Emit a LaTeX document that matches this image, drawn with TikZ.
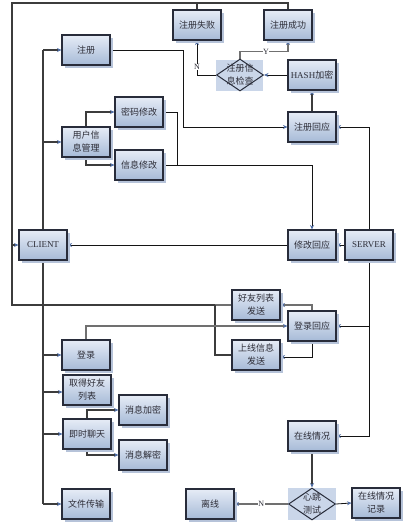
\documentclass[tikz,border=0pt]{standalone}
\usepackage{fontspec}
\setmainfont{Liberation Serif}
\newfontfamily\cjk{Noto Sans CJK SC}
\usetikzlibrary{arrows.meta,shadows,shapes.geometric,calc}
\pgfdeclarelayer{back}
\pgfdeclarelayer{bg}
\pgfsetlayers{back,bg,main}
\definecolor{boxtop}{RGB}{230,236,246}
\definecolor{boxbot}{RGB}{166,186,215}
\definecolor{shade}{RGB}{182,195,217}
\definecolor{edge}{RGB}{40,44,58}
\definecolor{tip}{RGB}{80,110,165}
\definecolor{txt}{RGB}{45,45,55}
\definecolor{gline}{RGB}{112,112,112}
\definecolor{dline}{RGB}{60,60,60}
\definecolor{dpale}{RGB}{202,214,233}
\tikzset{
  blk/.style={draw=edge, line width=1.1pt, top color=boxtop, bottom color=boxbot,
    minimum width=48pt, minimum height=30pt, inner sep=1pt, align=center,
    font=\cjk\fontsize{9}{13}\selectfont, text=txt,
    drop shadow={shadow xshift=2.5pt, shadow yshift=-2.5pt, fill=shade, opacity=1}},
  dia/.style={draw=edge, line width=1pt, diamond, minimum width=47pt, minimum height=32pt, inner sep=0pt},
  diatext/.style={align=center, font=\cjk\fontsize{9}{13}\selectfont, text=txt, inner sep=0pt},
  con/.style={draw=black!92, line width=0.8pt},
  gl/.style={draw=gline, line width=1.2pt},
  dl/.style={draw=dline, line width=1.1pt},
  frame/.style={draw=dline, line width=1.7pt},
  arr/.style={-{Stealth[length=4.5pt,width=4pt,color=tip]}},
  lab/.style={font=\fontsize{8}{9}\selectfont, text=txt, fill=white, inner sep=0.6pt}
}
\begin{document}
\begin{tikzpicture}[x=1pt,y=-1pt]
\useasboundingbox (0,0) rectangle (420,525);
\begin{pgfonlayer}{back}
\fill[white] (0,0) rectangle (420,525);
\end{pgfonlayer}
% diamond backgrounds
\fill[dpale] (216,60) rectangle (263,91);
\fill[dpale] (288,488) rectangle (336,520);
% nodes
\node[blk] (fail) at (197,25) {注册失败};
\node[blk] (succ) at (288,25) {注册成功};
\node[dia] (chk) at (240,75) {};
\node[diatext] (chkt) at (chk.center) {注册信\\息检查};
\node[blk] (hash) at (312,75) {{\rmfamily HASH}加密};
\node[blk] (regresp) at (312,127) {注册回应};
\node[blk] (reg) at (86,50) {注册};
\node[blk] (pwd) at (139,112) {密码修改};
\node[blk] (umgr) at (86,142) {用户信\\息管理};
\node[blk] (info) at (139,165) {信息修改};
\node[blk] (client) at (43,245) {\rmfamily CLIENT};
\node[blk] (modresp) at (312,245) {修改回应};
\node[blk] (server) at (369,245) {\rmfamily SERVER};
\node[blk] (flist) at (256,305) {好友列表\\发送};
\node[blk] (loginresp) at (312,326) {登录回应};
\node[blk] (online) at (256,355) {上线信息\\发送};
\node[blk] (login) at (86,355) {登录};
\node[blk] (getf) at (87,390) {取得好友\\列表};
\node[blk] (enc) at (143,410) {消息加密};
\node[blk] (chat) at (87,434) {即时聊天};
\node[blk] (dec) at (143,455) {消息解密};
\node[blk] (file) at (86,504) {文件传输};
\node[blk] (status) at (312,436) {在线情况};
\node[blk] (offline) at (210,504) {离线};
\node[dia] (hb) at (312,504) {};
\node[diatext] (hbt) at (hb.center) {心跳\\测试};
\node[blk] (rec) at (376,503) {在线情况\\记录};
% helper coordinates
\coordinate (tl) at (12,3);
\coordinate (bl) at (12,305);
\coordinate (jn) at (215,305);
\coordinate (rv) at (183,0);
\coordinate (pv) at (177,0);
\begin{pgfonlayer}{bg}
% outer frame back to client
\draw[frame] (succ.north) |- (tl) -- (bl) -- (jn);
\draw[frame] (fail.north) -- (fail.north |- tl);
\draw[frame,arr] (client.west -| tl) -- (client.west);
\draw[gl] (flist.west) -- (jn);
\draw[dl] (online.west) -| (jn);
% client spine
\draw[frame] (reg.west -| client) -- (file.west -| client);
\draw[dl,arr] (reg.west -| client) -- (reg.west);
\draw[dl,arr] (umgr.west -| client) -- (umgr.west);
\draw[dl,arr] (login.west -| client) -- (login.west);
\draw[dl,arr] ([yshift=-2pt]getf.west -| client) -- ([yshift=-2pt]getf.west);
\draw[dl,arr] (chat.west -| client) -- (chat.west);
\draw[dl,arr] (file.west -| client) -- (file.west);
% registration
\draw[con,arr] (reg.east) -| (rv |- regresp.west) -- (regresp.west);
\draw[dl,arr] (regresp.north) -- (hash.south);
\draw[con,arr] (hash.west) -- (chk.east);
\draw[gl,arr] (chk.north) -- ++(0,-7) -| (succ.south);
\draw[con,arr] (chk.west) -| (fail.south);
\node[lab] (ylab) at (266,52) {Y};
\node[lab] (nlab) at (197,67) {N};
% user info
\draw[dl,arr] (umgr.north) |- (pwd.west);
\draw[dl,arr] (umgr.south) |- (info.west);
\draw[con] (pwd.east) -| (pv |- info.east);
\draw[con,arr] (info.east) -| (modresp.north);
\draw[con,arr] (modresp.west) -- (client.east);
% server
\draw[con,arr] (server.north) |- (regresp.east);
\draw[con,arr] (server.west) -- (modresp.east);
\draw[con,arr] (server.south) |- (loginresp.east);
\draw[con,arr] (server.south) |- (status.east);
% login
\draw[gl,arr] (login.north) |- (loginresp.west);
\draw[gl,arr] (loginresp.north) |- (flist.east);
\draw[con,arr] (loginresp.south) |- ([yshift=-2pt]online.east);
% chat
\draw[dl,arr] (chat.north) |- (enc.west);
\draw[dl,arr] (chat.south) |- (dec.west);
% heartbeat
\draw[dl,arr] (status.south) -- (hb.north);
\draw[gl,arr] (hb.west) -- node[lab] (n2lab) {N} (offline.east);
\draw[con,arr] (hb.east) -- (rec.west);
\end{pgfonlayer}
\end{tikzpicture}
\end{document}
